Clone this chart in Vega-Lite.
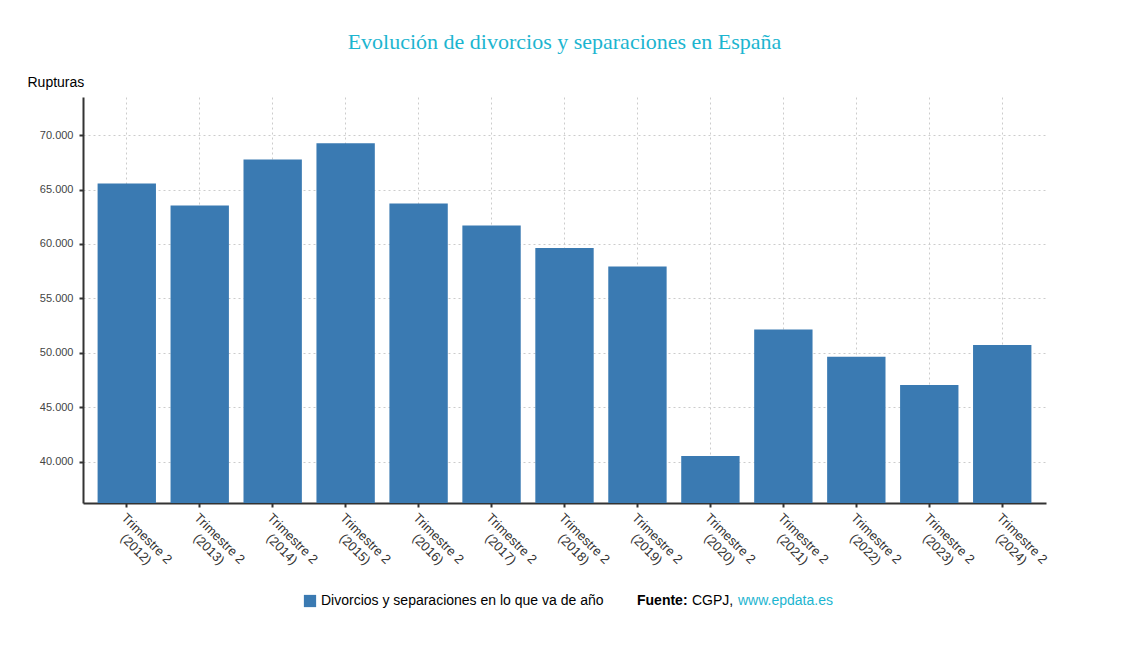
{
  "$schema": "https://vega.github.io/schema/vega-lite/v6.json",
  "width": 963,
  "height": 406,
  "autosize": "none",
  "padding": {"left": 83, "top": 97, "right": 89, "bottom": 145},
  "background": "white",
  "title": {
    "text": "Evolución de divorcios y separaciones en España",
    "font": "Liberation Serif",
    "fontSize": 22,
    "fontWeight": "normal",
    "color": "#1cb5d0",
    "anchor": "middle",
    "offset": 21
  },
  "data": {
    "values": [
      {"periodo": "Trimestre 2 (2012)", "rupturas": 65550, "serie": "Divorcios y separaciones en lo que va de año", "fuente": "CGPJ,"},
      {"periodo": "Trimestre 2 (2013)", "rupturas": 63530, "serie": "Divorcios y separaciones en lo que va de año", "fuente": "CGPJ,"},
      {"periodo": "Trimestre 2 (2014)", "rupturas": 67760, "serie": "Divorcios y separaciones en lo que va de año", "fuente": "CGPJ,"},
      {"periodo": "Trimestre 2 (2015)", "rupturas": 69240, "serie": "Divorcios y separaciones en lo que va de año", "fuente": "CGPJ,"},
      {"periodo": "Trimestre 2 (2016)", "rupturas": 63710, "serie": "Divorcios y separaciones en lo que va de año", "fuente": "CGPJ,"},
      {"periodo": "Trimestre 2 (2017)", "rupturas": 61690, "serie": "Divorcios y separaciones en lo que va de año", "fuente": "CGPJ,"},
      {"periodo": "Trimestre 2 (2018)", "rupturas": 59630, "serie": "Divorcios y separaciones en lo que va de año", "fuente": "CGPJ,"},
      {"periodo": "Trimestre 2 (2019)", "rupturas": 57920, "serie": "Divorcios y separaciones en lo que va de año", "fuente": "CGPJ,"},
      {"periodo": "Trimestre 2 (2020)", "rupturas": 40520, "serie": "Divorcios y separaciones en lo que va de año", "fuente": "CGPJ,"},
      {"periodo": "Trimestre 2 (2021)", "rupturas": 52140, "serie": "Divorcios y separaciones en lo que va de año", "fuente": "CGPJ,"},
      {"periodo": "Trimestre 2 (2022)", "rupturas": 49630, "serie": "Divorcios y separaciones en lo que va de año", "fuente": "CGPJ,"},
      {"periodo": "Trimestre 2 (2023)", "rupturas": 47040, "serie": "Divorcios y separaciones en lo que va de año", "fuente": "CGPJ,"},
      {"periodo": "Trimestre 2 (2024)", "rupturas": 50710, "serie": "Divorcios y separaciones en lo que va de año", "fuente": "CGPJ,"}
    ]
  },
  "mark": {"type": "bar", "clip": true},
  "encoding": {
    "x": {
      "field": "periodo",
      "type": "nominal",
      "sort": null,
      "scale": {"paddingInner": 0.2, "paddingOuter": 0.2},
      "axis": {
        "title": null,
        "labelAngle": 45,
        "labelAlign": "center",
        "labelBaseline": "top",
        "labelOffset": 24,
        "labelPadding": 27,
        "labelExpr": "[slice(datum.label, 0, 11), slice(datum.label, 12)]",
        "labelFont": "Liberation Sans",
        "labelFontSize": 13,
        "labelColor": "#333333",
        "domainColor": "#333333",
        "domainWidth": 2,
        "tickColor": "#333333",
        "tickSize": 4,
        "tickWidth": 2,
        "grid": true,
        "gridColor": "#cccccc",
        "gridDash": [2, 3]
      }
    },
    "y": {
      "field": "rupturas",
      "type": "quantitative",
      "scale": {"domain": [36200, 73500], "nice": false, "zero": false},
      "axis": {
        "title": "Rupturas",
        "titleAngle": 0,
        "titleAlign": "left",
        "titleBaseline": "alphabetic",
        "titleX": -56,
        "titleY": -11,
        "titleFont": "Liberation Sans",
        "titleFontSize": 14,
        "titleFontWeight": "normal",
        "titleColor": "#000000",
        "values": [40000, 45000, 50000, 55000, 60000, 65000, 70000],
        "labelExpr": "replace(format(datum.value, ','), ',', '.')",
        "labelFont": "Liberation Sans",
        "labelFontSize": 11,
        "labelColor": "#444444",
        "labelPadding": 6,
        "domainColor": "#333333",
        "domainWidth": 2,
        "tickColor": "#333333",
        "tickSize": 4,
        "tickWidth": 2,
        "grid": true,
        "gridColor": "#cccccc",
        "gridDash": [2, 3]
      }
    },
    "color": {
      "field": "serie",
      "type": "nominal",
      "scale": {"range": ["#3a7ab2"]},
      "legend": {
        "title": null,
        "orient": "none",
        "legendX": 220,
        "legendY": 497,
        "symbolType": "square",
        "symbolSize": 150,
        "symbolStrokeWidth": 0,
        "labelOffset": 4,
        "labelFont": "Liberation Sans",
        "labelFontSize": 14,
        "labelLimit": 500,
        "labelColor": "#000000"
      }
    },
    "opacity": {
      "field": "fuente",
      "type": "nominal",
      "scale": {"domain": ["Fuente:", "CGPJ,", "www.epdata.es"], "range": [1, 1, 1]},
      "legend": {
        "title": null,
        "orient": "none",
        "direction": "horizontal",
        "legendX": 550,
        "legendY": 497,
        "columnPadding": 0,
        "symbolSize": 0,
        "symbolOpacity": 0,
        "symbolStrokeWidth": 0,
        "labelOffset": -10,
        "labelFont": "Liberation Sans",
        "labelFontSize": 14,
        "labelLimit": 500,
        "labelFontWeight": {"expr": "datum.label == 'Fuente:' ? 'bold' : 'normal'"},
        "labelColor": {"expr": "datum.label == 'www.epdata.es' ? '#1cb5d0' : '#000000'"}
      }
    }
  },
  "config": {
    "view": {"stroke": null}
  }
}
